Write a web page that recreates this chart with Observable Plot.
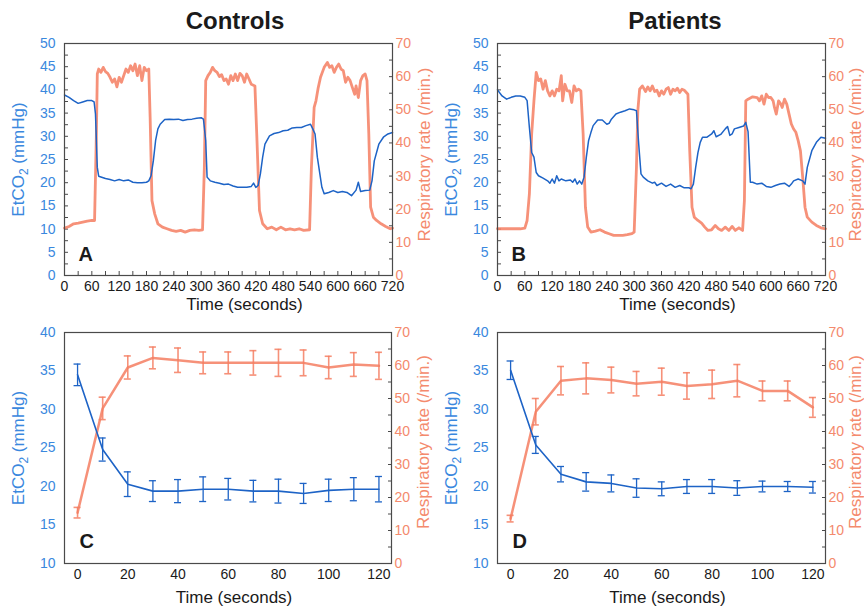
<!DOCTYPE html>
<html><head><meta charset="utf-8">
<script src="https://cdn.jsdelivr.net/npm/d3@7"></script>
<script src="https://cdn.jsdelivr.net/npm/@observablehq/plot@0.6"></script>
<style>
body{margin:0;background:#fff;}
#root{position:relative;width:864px;height:606px;font-family:"Liberation Sans",Arial,Helvetica,sans-serif;overflow:hidden;background:#fff;}
.panel{position:absolute;}
.title{position:absolute;font-weight:bold;font-size:24px;line-height:24px;transform:translateX(-50%);color:#1a1a1a;white-space:nowrap;}
</style></head><body><div id="root"></div>
<script>
// ---- Data ----
const panelTitles = ["Controls", "Patients"];
const panelLetters = ["A", "B", "C", "D"];
const xLabel = "Time (seconds)";
const leftLabel = "EtCO2 (mmHg)";
const rightLabel = "Respiratory rate (/min.)";

// Panel A: controls, EtCO2 (mmHg)
const aEtT = [0,10,20,30,40,50,60,65,68,72,75,90,100,110,120,130,140,150,160,170,180,185,190,195,200,205,210,220,230,240,250,260,270,280,290,300,305,310,313,320,330,340,350,360,370,380,390,400,410,415,420,425,430,435,440,450,460,470,480,490,500,510,520,530,540,545,550,555,565,570,580,590,600,610,620,630,640,645,650,660,670,675,680,690,700,710,720];
const aEt = [38.9,38.4,37.7,37.1,37.4,37.7,37.7,37.4,34.8,23.3,21.4,20.9,20.7,20.4,20.7,20.4,20.6,20.1,20.0,20.0,20.1,20.4,21.5,24.7,29.1,31.6,32.6,33.6,33.7,33.6,33.7,33.4,33.6,33.7,33.9,34.0,33.7,29.1,21.2,20.4,20.1,19.9,19.6,19.7,19.3,19.0,19.0,19.0,19.2,19.9,19.0,19.4,21.9,25.5,28.3,30.1,30.6,30.8,31.2,31.3,31.8,31.9,31.9,32.3,32.6,31.6,30.5,25.5,19.0,17.6,17.9,18.3,17.9,18.1,17.9,17.2,18.4,20.1,18.1,18.3,18.4,20.4,24.7,28.3,29.8,30.5,30.8];
// Panel A: controls, respiratory rate (/min.)
const aRrT = [0,10,20,30,40,50,60,66,70,72,75,80,85,90,95,100,105,110,115,120,125,130,135,140,145,150,155,160,165,170,175,180,185,188,192,198,205,215,225,235,245,255,265,275,285,295,303,307,310,315,320,325,330,335,340,345,350,355,360,365,370,375,380,385,390,395,400,405,410,418,422,428,435,445,455,465,475,485,495,505,515,525,538,542,548,552,557,562,570,577,582,587,592,597,602,607,612,617,622,627,632,637,640,645,650,655,660,664,668,672,678,685,695,705,715,720];
const aRr = [14.3,14.8,15.6,15.8,16.1,16.4,16.6,16.6,42.7,60.8,62.3,61.3,62.8,61.5,61.0,59.8,58.3,59.3,56.9,59.8,58.3,60.3,62.3,61.3,63.3,61.8,63.8,60.3,63.3,58.8,62.8,61.8,62.3,47.7,22.6,18.6,15.6,14.6,14.1,13.6,13.3,13.6,13.1,13.6,13.8,13.6,13.8,32.6,58.8,60.3,61.3,62.8,61.8,61.3,60.0,60.6,58.8,59.3,57.7,60.3,58.8,60.8,58.8,61.0,60.3,58.3,60.8,59.3,57.7,57.2,42.7,19.6,15.6,14.1,14.6,13.8,14.6,13.8,14.1,13.8,14.1,13.6,13.8,32.6,50.7,52.7,56.7,59.8,62.8,64.3,62.8,63.3,61.3,62.8,63.8,62.3,61.8,58.3,59.8,58.8,56.7,54.7,57.2,53.7,58.8,60.3,60.8,58.8,42.7,20.6,17.6,16.6,15.6,14.8,14.1,14.3];

// Panel B: patients, EtCO2 (mmHg)
const bEtT = [0,10,20,30,40,50,60,65,70,75,80,85,90,100,110,115,120,125,130,135,140,150,160,165,170,175,180,185,190,195,200,205,210,220,230,240,245,250,260,270,280,290,300,305,310,315,320,330,340,345,350,360,370,380,390,400,410,420,425,430,435,440,445,450,460,470,475,480,490,500,505,510,515,520,530,540,545,550,555,560,570,580,590,600,610,620,630,640,645,650,660,670,675,680,690,700,710,720];
const bEt = [40.0,38.7,38.0,38.4,38.7,38.7,38.4,37.7,31.9,26.5,25.5,22.2,21.5,21.0,20.4,19.9,20.8,19.9,21.5,20.4,20.8,20.4,20.6,20.1,20.8,19.7,20.4,19.7,21.2,25.5,29.1,30.8,32.3,33.5,33.5,32.6,32.8,33.7,34.8,35.2,35.5,35.9,35.7,35.5,28.3,21.9,21.2,20.4,19.9,20.1,19.4,19.9,19.2,19.7,19.0,19.4,18.9,18.9,18.7,19.7,23.3,26.5,28.7,29.8,29.8,30.5,31.2,29.9,30.4,31.6,32.1,30.2,30.5,31.6,31.9,32.2,33.0,31.0,20.1,20.1,19.7,19.9,19.2,19.0,19.4,19.7,19.9,19.2,19.7,20.4,20.8,20.4,19.7,23.3,26.9,28.7,29.8,29.6];
// Panel B: patients, respiratory rate (/min.)
const bRrT = [0,10,20,30,40,50,60,65,70,75,80,85,90,95,100,105,110,115,120,125,130,135,140,143,148,153,158,163,168,173,178,183,188,193,198,205,215,225,235,245,255,265,275,285,295,300,305,308,312,318,325,330,335,340,345,350,355,360,365,370,375,380,385,390,395,400,405,410,418,422,427,432,440,448,455,462,470,478,485,492,500,508,515,522,530,538,542,545,550,560,570,575,580,585,590,595,600,605,608,612,617,622,625,630,635,640,645,650,655,660,665,670,675,680,690,700,710,720];
const bRr = [14.1,14.1,14.1,14.1,14.1,14.1,14.3,16.6,24.6,42.7,52.7,61.3,58.8,59.3,56.2,58.8,55.7,54.2,55.7,54.2,56.2,55.7,60.3,52.7,57.7,55.7,55.7,52.2,57.2,55.7,56.2,55.7,42.7,20.6,14.6,13.1,13.4,13.8,13.1,12.6,12.1,12.1,12.1,12.3,12.6,13.1,32.6,49.7,56.2,57.2,55.5,56.9,55.7,57.2,55.5,55.9,54.2,55.7,54.7,56.2,56.7,54.7,56.2,55.7,56.5,55.2,56.2,55.9,54.7,37.6,20.6,17.6,16.6,15.8,14.6,13.6,13.8,15.1,14.1,13.6,14.6,13.6,14.8,13.6,14.4,13.6,22.6,52.7,53.2,53.9,53.7,52.7,54.2,51.7,54.7,53.7,53.7,52.7,50.7,48.7,52.7,51.7,50.7,53.2,51.7,48.7,45.7,44.2,43.2,40.7,37.6,29.6,20.6,17.6,16.1,15.1,14.4,14.1];

// Panels C and D: mean ± error over 120 s
const avgT = [0,10,20,30,40,50,60,70,80,90,100,110,120];
const cEt   = [34.5,24.8,20.3,19.4,19.4,19.65,19.65,19.4,19.4,19.1,19.5,19.65,19.65];
const cEtE  = [1.4,1.5,1.6,1.35,1.5,1.6,1.4,1.4,1.55,1.3,1.45,1.5,1.65];
const cRr   = [15.4,47.0,59.4,62.3,61.6,60.8,60.8,60.8,60.8,60.8,59.4,60.3,59.9];
const cRrE  = [1.6,3.4,3.5,3.3,3.7,3.3,3.3,3.7,4.1,3.9,3.4,3.6,4.1];
const dEt   = [35.1,25.4,21.6,20.6,20.4,19.8,19.7,20.0,20.0,19.8,20.0,20.0,19.9];
const dEtE  = [1.2,1.1,1.0,1.2,1.1,1.2,0.9,0.9,0.9,0.95,0.7,0.65,0.75];
const dRr   = [13.6,46.0,55.4,56.1,55.6,54.5,55.1,53.8,54.3,55.4,52.3,52.3,47.3];
const dRrE  = [1.0,4.0,4.3,4.7,3.9,3.7,4.1,4.0,4.3,4.9,3.0,3.0,3.0];

// Axis ticks
const topXTicks = d3.range(0, 721, 60);
const topXMinor = d3.range(0, 721, 30);
const topYTicks = d3.range(0, 51, 5);
const topYMinor = d3.range(0, 50.01, 2.5);
const botXTicks = d3.range(0, 121, 20);
const botYTicks = d3.range(10, 41, 5);
const rrTicks = d3.range(0, 71, 10);
const rrMinor = d3.range(0, 71, 5);

// ---- Styling ----
const BLUE = "#1d63c6", BLUE_TXT = "#3a88de", ORANGE = "#f47e61", ORANGE_TXT = "#f48a6d", FRAME = "#4a4a4a", INK = "#1a1a1a";
const FONT = '"Liberation Sans", Arial, Helvetica, sans-serif';

function zipSeries(t, v) { return t.map((tt, i) => ({t: tt, v: v[i]})); }

function drawPanel(cfg) {
  const [lo, hi] = cfg.yDomain;
  const toL = v => lo + v * (hi - lo) / 70;
  const fromL = v => (v - lo) * 70 / (hi - lo);
  const marks = [];

  // axes
  marks.push(Plot.axisY(cfg.yTicks, {anchor: "left", tickSize: 0, tickPadding: 9, color: BLUE_TXT, fontSize: 14, label: null}));
  if (cfg.yMinor) marks.push(Plot.axisY(cfg.yMinor, {anchor: "left", tickSize: -4, tickFormat: () => "", color: FRAME, label: null}));
  marks.push(Plot.axisY(rrTicks.map(toL), {anchor: "right", tickSize: 0, tickPadding: 3, tickFormat: d => String(Math.round(fromL(d))), color: ORANGE_TXT, fontSize: 14, label: null}));
  marks.push(Plot.axisY(rrMinor.map(toL), {anchor: "right", tickSize: -4, tickFormat: () => "", color: FRAME, label: null}));
  marks.push(Plot.axisX(cfg.xTicks, {anchor: "bottom", tickSize: 0, tickPadding: cfg.xPad, color: INK, fontSize: 14, label: null}));
  if (cfg.xMinor) marks.push(Plot.axisX(cfg.xMinor, {anchor: "bottom", tickSize: -4, tickFormat: () => "", color: FRAME, label: null}));

  if (cfg.rr) {
    marks.push(Plot.line(cfg.rr, {x: "t", y: d => toL(d.v), stroke: ORANGE, strokeWidth: 2.8, strokeOpacity: 0.85, strokeLinejoin: "round"}));
    marks.push(Plot.line(cfg.et, {x: "t", y: "v", stroke: BLUE, strokeWidth: 1.5, strokeLinejoin: "round"}));
  }
  if (cfg.rows) {
    const cap = 1.4;
    const rows = cfg.rows;
    marks.push(Plot.line(rows, {x: "t", y: d => toL(d.rr), stroke: ORANGE, strokeWidth: 2.5, strokeOpacity: 0.85}));
    marks.push(Plot.ruleX(rows, {x: "t", y1: d => toL(d.rr - d.rrE), y2: d => toL(d.rr + d.rrE), stroke: ORANGE, strokeWidth: 1.6, strokeOpacity: 0.85}));
    marks.push(Plot.ruleY(rows, {y: d => toL(d.rr + d.rrE), x1: d => d.t - cap, x2: d => d.t + cap, stroke: ORANGE, strokeWidth: 1.6, strokeOpacity: 0.85}));
    marks.push(Plot.ruleY(rows, {y: d => toL(d.rr - d.rrE), x1: d => d.t - cap, x2: d => d.t + cap, stroke: ORANGE, strokeWidth: 1.6, strokeOpacity: 0.85}));
    marks.push(Plot.line(rows, {x: "t", y: "et", stroke: BLUE, strokeWidth: 1.6}));
    marks.push(Plot.ruleX(rows, {x: "t", y1: d => d.et - d.etE, y2: d => d.et + d.etE, stroke: BLUE, strokeWidth: 1.3}));
    marks.push(Plot.ruleY(rows, {y: d => d.et + d.etE, x1: d => d.t - cap, x2: d => d.t + cap, stroke: BLUE, strokeWidth: 1.3}));
    marks.push(Plot.ruleY(rows, {y: d => d.et - d.etE, x1: d => d.t - cap, x2: d => d.t + cap, stroke: BLUE, strokeWidth: 1.3}));
  }

  // labels
  marks.push(Plot.text([leftLabel], {text: d => d, frameAnchor: "left", rotate: -90, dx: -46, textAnchor: "middle", lineAnchor: "middle", fill: BLUE_TXT, fontSize: 17}));
  marks.push(Plot.text([rightLabel], {text: d => d, frameAnchor: "right", rotate: -90, dx: cfg.rlDx, dy: cfg.rlDy, textAnchor: "middle", lineAnchor: "middle", fill: ORANGE_TXT, fontSize: 17}));
  marks.push(Plot.text([xLabel], {text: d => d, frameAnchor: "bottom", dx: cfg.xlDx, dy: cfg.xlDy, textAnchor: "middle", lineAnchor: "middle", fill: INK, fontSize: 17}));
  marks.push(Plot.text([cfg.letter], {text: d => d, frameAnchor: "bottom-left", dx: cfg.lDx, dy: cfg.lDy, textAnchor: "start", lineAnchor: "bottom", fill: INK, fontSize: 20, fontWeight: "bold"}));
  marks.push(Plot.frame({stroke: FRAME, strokeWidth: 1.2}));

  const svg = Plot.plot({
    width: 432, height: cfg.height,
    marginLeft: cfg.mL, marginRight: cfg.mR, marginTop: cfg.mT, marginBottom: cfg.mB,
    x: {domain: cfg.xDomain},
    y: {domain: cfg.yDomain},
    style: {fontFamily: FONT, fontSize: "14px", overflow: "visible", background: "transparent"},
    marks
  });
  // subscript 2 in EtCO2
  svg.querySelectorAll("text").forEach(t => {
    if (t.textContent === leftLabel) {
      t.textContent = "";
      const ns = "http://www.w3.org/2000/svg";
      const a = document.createElementNS(ns, "tspan"); a.textContent = "EtCO";
      const b = document.createElementNS(ns, "tspan"); b.textContent = "2"; b.setAttribute("font-size", "12"); b.setAttribute("dy", "4");
      const c = document.createElementNS(ns, "tspan"); c.textContent = " (mmHg)"; c.setAttribute("dy", "-4");
      t.append(a, b, c);
    }
  });
  const div = document.createElement("div");
  div.className = "panel";
  div.style.left = cfg.left + "px";
  div.style.top = cfg.top + "px";
  div.appendChild(svg);
  document.getElementById("root").appendChild(div);
}

const root = document.getElementById("root");
[[panelTitles[0], 235], [panelTitles[1], 675]].forEach(([txt, x]) => {
  const d = document.createElement("div");
  d.className = "title"; d.textContent = txt;
  d.style.left = x + "px"; d.style.top = "9px";
  root.appendChild(d);
});

const topCommon = {top: 30, height: 286, mT: 13, mB: 41, xDomain: [0, 720], yDomain: [0, 50],
  xTicks: topXTicks, xMinor: topXMinor, yTicks: topYTicks, yMinor: topYMinor, xPad: 6,
  xlDx: 16, xlDy: 29, lDx: 14, lDy: -15, rlDy: -5};
drawPanel({...topCommon, left: 0, mL: 64, mR: 40, rlDx: 32, letter: panelLetters[0], et: zipSeries(aEtT, aEt), rr: zipSeries(aRrT, aRr)});
drawPanel({...topCommon, left: 432, mL: 65, mR: 39, rlDx: 30, letter: panelLetters[1], et: zipSeries(bEtT, bEt), rr: zipSeries(bRrT, bRr)});

const botCommon = {top: 316, height: 290, mT: 16, mB: 43, xDomain: [-5.2, 125], yDomain: [10, 40],
  xTicks: botXTicks, xMinor: null, yTicks: botYTicks, yMinor: null, xPad: 6,
  xlDx: 6, xlDy: 34, lDx: 15, lDy: -16, rlDy: -6};
const cRows = avgT.map((t, i) => ({t, et: cEt[i], etE: cEtE[i], rr: cRr[i], rrE: cRrE[i]}));
const dRows = avgT.map((t, i) => ({t, et: dEt[i], etE: dEtE[i], rr: dRr[i], rrE: dRrE[i]}));
drawPanel({...botCommon, left: 0, mL: 64, mR: 41, rlDx: 32, letter: panelLetters[2], rows: cRows});
drawPanel({...botCommon, left: 432, mL: 65, mR: 39, rlDx: 30, letter: panelLetters[3], rows: dRows});
</script></body></html>
